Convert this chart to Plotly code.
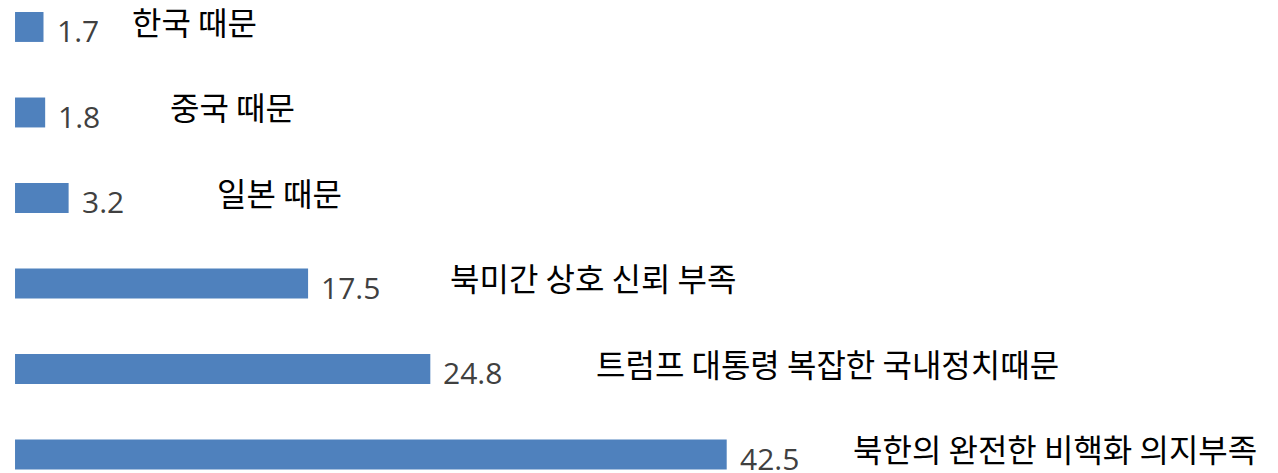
import plotly.graph_objects as go

categories = ["한국 때문", "중국 때문", "일본 때문", "북미간 상호 신뢰 부족",
              "트럼프 대통령 복잡한 국내정치때문", "북한의 완전한 비핵화 의지부족"]
values = [1.7, 1.8, 3.2, 17.5, 24.8, 42.5]
value_labels = ["1.7", "1.8", "3.2", "17.5", "24.8", "42.5"]
label_x = [6.85, 9.15, 11.95, 25.85, 34.6, 49.9]

fig = go.Figure()
fig.add_trace(go.Bar(
    x=values, y=categories, orientation="h",
    marker=dict(color="#4F81BD", line=dict(width=0)),
    width=0.35, hoverinfo="skip",
))

for cat, v, vl, lx in zip(categories, values, value_labels, label_x):
    fig.add_annotation(x=v, y=cat, text=vl, showarrow=False, xanchor="left",
                       yanchor="middle", xshift=11, yshift=-4,
                       font=dict(family="Open Sans", size=30, color="#404040"))
    fig.add_annotation(x=lx, y=cat, text=cat, showarrow=False, xanchor="left",
                       yanchor="middle", yshift=6,
                       font=dict(family="Noto Sans CJK KR", size=32, color="#000000"))

fig.update_layout(
    width=1278, height=473,
    margin=dict(l=0, r=0, t=0, b=0),
    paper_bgcolor="white", plot_bgcolor="white",
    showlegend=False,
    xaxis=dict(range=[-0.42, 75.9], visible=False),
    yaxis=dict(range=[5.31, -0.222], visible=False, categoryorder="array",
               categoryarray=categories),
)
fig.write_html("out.html")
